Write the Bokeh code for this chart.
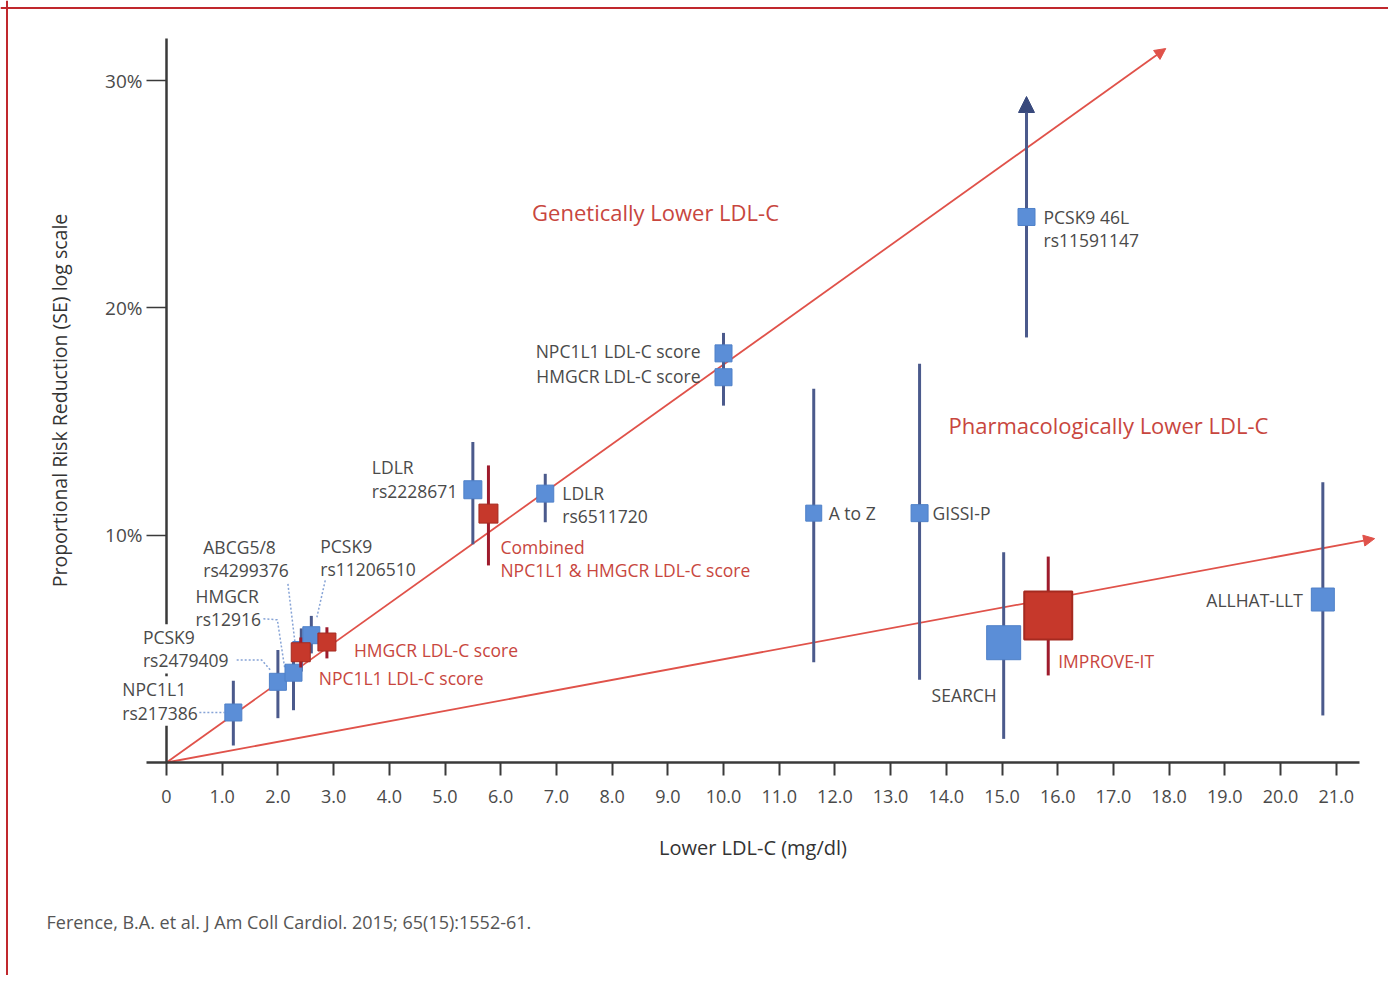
from bokeh.plotting import figure
from bokeh.models import (LinearAxis, FixedTicker, Range1d, ColumnDataSource,
                          Arrow, NormalHead, Span)
from bokeh.core.properties import value
from bokeh.embed import file_html
from bokeh.resources import INLINE

# ---------------- data ----------------
# Genetic variants / scores (blue)
gen_names = ["NPC1L1 rs217386", "PCSK9 rs2479409", "HMGCR rs12916", "ABCG5/8 rs4299376",
             "PCSK9 rs11206510", "LDLR rs2228671", "LDLR rs6511720", "NPC1L1 LDL-C score",
             "HMGCR LDL-C score", "PCSK9 46L rs11591147"]
gen_x = [1.2, 2.0, 2.28, 2.42, 2.6, 5.5, 6.8, 10.0, 10.0, 15.44]
gen_y = [2.2, 3.55, 3.95, 4.95, 5.6, 12.0, 11.83, 18.0, 16.95, 24.0]
gen_lo = [0.75, 1.95, 2.3, 4.0, 4.8, 9.6, 10.57, 17.2, 15.7, 18.7]
gen_hi = [3.6, 4.95, 5.3, 5.9, 6.45, 14.1, 12.7, 18.9, 17.7, 29.3]
gen_hi_open = [False, False, False, False, False, False, False, False, False, True]
gen_weight = [17, 17, 17, 17, 17, 18, 17, 17, 17, 17]

# Combined genetic scores (red)
score_names = ["NPC1L1 LDL-C score", "HMGCR LDL-C score", "Combined NPC1L1 & HMGCR LDL-C score"]
score_x = [2.41, 2.88, 5.78]
score_y = [4.85, 5.3, 10.95]
score_lo = [4.18, 4.58, 8.67]
score_hi = [5.5, 5.95, 13.07]
score_weight = [19, 18, 19]

# Trials (pharmacologic)
trial_names = ["A to Z", "GISSI-P", "SEARCH", "IMPROVE-IT", "ALLHAT-LLT"]
trial_x = [11.62, 13.52, 15.03, 15.83, 20.76]
trial_y = [10.97, 10.97, 5.27, 6.47, 7.17]
trial_lo = [4.41, 3.64, 1.04, 3.83, 2.07]
trial_hi = [16.44, 17.54, 9.25, 9.06, 12.33]
trial_weight = [16, 17, 34, 48, 23]
trial_is_red = [False, False, False, True, False]

# Trend lines (from the origin)
trend_names = ["Genetically Lower LDL-C", "Pharmacologically Lower LDL-C"]
trend_x_end = [17.94, 21.69]
trend_y_end = [31.41, 9.85]

x_ticks = list(range(22))
x_tick_labels = ["0"] + [f"{i}.0" for i in range(1, 22)]
y_ticks = [10, 20, 30]
y_tick_labels = ["10%", "20%", "30%"]

# ---------------- style / layout ----------------
W, H = 1388, 975
PXX, PXY = 55.7, 22.73          # pixels per data unit
X_START, X_END = -166 / PXX, (W - 166) / PXX
Y_START, Y_END = (762 - H) / PXY, 762 / PXY

FONT = "Open Sans"
GRAY = "#4a4a4a"
RED_TXT = "#c8463e"
BLUE = "#5b8ed7"
BLUE_EDGE = "#4f80c8"
NAVY = "#4b5a8c"
NAVY_DARK = "#38497c"
RED = "#c6382b"
RED_EDGE = "#a52a20"
DARKRED = "#9e1b2c"
LINE_RED = "#e0524a"
AXIS = "#3a3a3a"

p = figure(width=W, height=H, x_range=Range1d(X_START, X_END),
           y_range=Range1d(Y_START, Y_END), x_axis_type=None, y_axis_type=None,
           output_backend="svg", toolbar_location=None, min_border=0)
p.outline_line_color = None
p.background_fill_color = "white"
p.border_fill_color = "white"

# ---------------- axes ----------------
xaxis = LinearAxis(fixed_location=0, bounds=(-0.36, 21.41),
                   ticker=FixedTicker(ticks=x_ticks),
                   major_label_overrides={t: l for t, l in zip(x_ticks, x_tick_labels)},
                   axis_label="Lower LDL-C (mg/dl)")
xaxis.axis_line_color = AXIS
xaxis.axis_line_width = 2.5
xaxis.major_tick_line_color = AXIS
xaxis.major_tick_line_width = 2
xaxis.major_tick_out = 13
xaxis.major_tick_in = 0
xaxis.minor_tick_out = 0
xaxis.minor_tick_in = 0
xaxis.major_label_standoff = 14
xaxis.major_label_text_font = FONT
xaxis.major_label_text_font_size = "18px"
xaxis.major_label_text_color = GRAY
xaxis.axis_label_text_font = FONT
xaxis.axis_label_text_font_size = "20px"
xaxis.axis_label_text_font_style = "normal"
xaxis.axis_label_text_color = "#333333"
xaxis.axis_label_standoff = 28
p.add_layout(xaxis, "below")

yaxis = LinearAxis(fixed_location=0, bounds=(0, 31.85),
                   ticker=FixedTicker(ticks=y_ticks),
                   major_label_overrides={t: l for t, l in zip(y_ticks, y_tick_labels)},
                   axis_label="Proportional Risk Reduction (SE) log scale")
yaxis.axis_line_color = AXIS
yaxis.axis_line_width = 2.5
yaxis.major_tick_line_color = AXIS
yaxis.major_tick_line_width = 1.5
yaxis.major_tick_out = 20
yaxis.major_tick_in = 0
yaxis.minor_tick_out = 0
yaxis.minor_tick_in = 0
yaxis.major_label_standoff = 4
yaxis.major_label_text_font = FONT
yaxis.major_label_text_font_size = "19px"
yaxis.major_label_text_color = GRAY
yaxis.axis_label_text_font = FONT
yaxis.axis_label_text_font_size = "19.5px"
yaxis.axis_label_text_font_style = "normal"
yaxis.axis_label_text_color = "#333333"
yaxis.axis_label_standoff = 29
p.add_layout(yaxis, "left")

# ---------------- trend arrows ----------------
trend_src = ColumnDataSource(dict(x0=[0, 0], y0=[0, 0], x1=trend_x_end, y1=trend_y_end))
p.add_layout(Arrow(end=NormalHead(size=11, fill_color=LINE_RED, line_color=LINE_RED, line_width=1),
                   source=trend_src, x_start="x0", y_start="y0", x_end="x1", y_end="y1",
                   line_color=LINE_RED, line_width=1.8, level="underlay"))

# open-ended CI (arrow)
open_idx = [i for i, o in enumerate(gen_hi_open) if o]
open_src = ColumnDataSource(dict(x=[gen_x[i] for i in open_idx],
                                 lo=[gen_lo[i] for i in open_idx],
                                 hi=[gen_hi[i] for i in open_idx]))
p.add_layout(Arrow(end=NormalHead(size=16, fill_color=NAVY_DARK, line_color=NAVY_DARK, line_width=1),
                   source=open_src, x_start="x", y_start="lo", x_end="x", y_end="hi",
                   line_color=NAVY, line_width=3, level="underlay"))

# ---------------- leader lines (annotation geometry) ----------------
leader_xs = [[0.59, 1.04], [1.26, 1.71, 1.87], [1.74, 1.99, 2.12], [2.18, 2.32], [2.85, 2.70]]
leader_ys = [[2.2, 2.2], [4.51, 4.51, 4.05], [6.32, 6.28, 4.19], [7.86, 5.0], [8.01, 6.39]]
p.multi_line(xs=leader_xs, ys=leader_ys, line_color="#86a3d6", line_width=1.5, line_dash="2 2")

# ---------------- blue CI + squares ----------------
closed = [i for i, o in enumerate(gen_hi_open) if not o]
gsrc_ci = ColumnDataSource(dict(x=[gen_x[i] for i in closed], lo=[gen_lo[i] for i in closed],
                                hi=[gen_hi[i] for i in closed]))
p.segment(x0="x", y0="lo", x1="x", y1="hi", source=gsrc_ci, line_color=NAVY, line_width=3)

tb = [i for i, r in enumerate(trial_is_red) if not r]
tr = [i for i, r in enumerate(trial_is_red) if r]
tsrc_b = ColumnDataSource(dict(x=[trial_x[i] for i in tb], y=[trial_y[i] for i in tb],
                               lo=[trial_lo[i] for i in tb], hi=[trial_hi[i] for i in tb],
                               size=[trial_weight[i] for i in tb]))
tsrc_r = ColumnDataSource(dict(x=[trial_x[i] for i in tr], y=[trial_y[i] for i in tr],
                               lo=[trial_lo[i] for i in tr], hi=[trial_hi[i] for i in tr],
                               size=[trial_weight[i] for i in tr]))
p.segment(x0="x", y0="lo", x1="x", y1="hi", source=tsrc_b, line_color=NAVY, line_width=3)

gsrc = ColumnDataSource(dict(x=gen_x, y=gen_y, size=gen_weight))
p.scatter(x="x", y="y", size="size", marker="square", source=gsrc,
          fill_color=BLUE, line_color=BLUE_EDGE, line_width=1)
p.scatter(x="x", y="y", size="size", marker="square", source=tsrc_b,
          fill_color=BLUE, line_color=BLUE_EDGE, line_width=1)

# ---------------- red CI + squares ----------------
ssrc = ColumnDataSource(dict(x=score_x, y=score_y, lo=score_lo, hi=score_hi, size=score_weight))
p.segment(x0="x", y0="lo", x1="x", y1="hi", source=ssrc, line_color=DARKRED, line_width=3)
p.scatter(x="x", y="y", size="size", marker="square", source=ssrc,
          fill_color=RED, line_color=RED_EDGE, line_width=1)
p.segment(x0="x", y0="lo", x1="x", y1="hi", source=tsrc_r, line_color=DARKRED, line_width=3)
p.scatter(x="x", y="y", size="size", marker="square", source=tsrc_r,
          fill_color=RED, line_color=RED_EDGE, line_width=2)

# ---------------- point labels ----------------
# (text, align, dx, dy, opaque) ; offsets in screen px from the point
label_layout = {
    "gen": [
        ("NPC1L1\nrs217386", "left", -112, -11.5, True),
        ("PCSK9\nrs2479409", "left", -136, -33, True),
        ("HMGCR\nrs12916", "left", -98, -65, False),
        ("ABCG5/8\nrs4299376", "left", -98, -91.5, False),
        ("PCSK9\nrs11206510", "left", 9, -78, False),
        ("LDLR\nrs2228671", "left", -101, -10.7, False),
        ("LDLR\nrs6511720", "left", 17, 11, False),
        ("NPC1L1 LDL-C score", "right", -23, -2, False),
        ("HMGCR LDL-C score", "right", -23, -1, False),
        ("PCSK9 46L\nrs11591147", "left", 17, 11.5, False),
    ],
    "score": [
        ("NPC1L1 LDL-C score", "left", 18, 26, False),
        ("HMGCR LDL-C score", "left", 27, 7.5, False),
        ("Combined\nNPC1L1 & HMGCR LDL-C score", "left", 12, 45, False),
    ],
    "trial": [
        ("A to Z", "left", 15, 0, False),
        ("GISSI-P", "left", 13, 0, False),
        ("SEARCH", "right", -7, 52, False),
        ("IMPROVE-IT", "left", 10, 46, False),
        ("ALLHAT-LLT", "right", -20, 0, False),
    ],
}
series = {
    "gen": (gen_x, gen_y, [GRAY] * len(gen_x)),
    "score": (score_x, score_y, [RED_TXT] * len(score_x)),
    "trial": (trial_x, trial_y, [RED_TXT if r else GRAY for r in trial_is_red]),
}
for key, entries in label_layout.items():
    xs, ys, cols = series[key]
    for i, (txt, align, dx, dy, opaque) in enumerate(entries):
        extra = dict(level="overlay")
        if opaque:
            extra.update(background_fill_color="white", padding=1)
        p.text(x=[xs[i]], y=[ys[i]], text=[txt], x_offset=dx, y_offset=dy,
               text_align=align, text_baseline="middle", text_color=cols[i],
               text_font=value(FONT), text_font_size="17.5px", text_line_height=0.97,
               **extra)

# ---------------- group titles ----------------
title_x = [8.78, 16.91]
title_y = [24.2, 14.83]
p.text(x=title_x, y=title_y, text=trend_names, text_align="center", text_baseline="middle",
       text_color=RED_TXT, text_font=value(FONT), text_font_size="22px")

# citation
p.text(x=[(46 - 166) / PXX], y=[(762 - 921) / PXY],
       text=["Ference, B.A. et al. J Am Coll Cardiol. 2015; 65(15):1552-61."],
       text_align="left", text_baseline="middle", text_color="#555555",
       text_font=value(FONT), text_font_size="18px")

# page border (left and top)
p.add_layout(Span(location=X_START + 6.5 / PXX, dimension="height", line_color="#c0282d", line_width=2))
p.add_layout(Span(location=Y_END - 7.5 / PXY, dimension="width", line_color="#c0282d", line_width=2))

open("out.html", "w").write(file_html(p, INLINE))
